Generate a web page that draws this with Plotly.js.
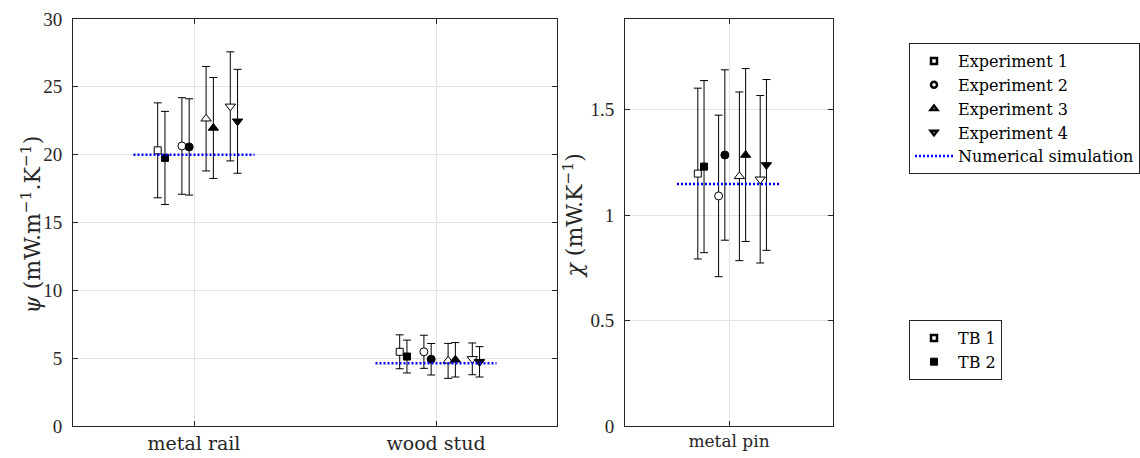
<!DOCTYPE html>
<html>
<head>
<meta charset="utf-8">
<script src="https://cdn.plot.ly/plotly-3.0.1.min.js"></script>
<style>html,body{margin:0;padding:0;background:#fff;}#chart{width:1140px;height:458px;}</style>
</head>
<body>
<div id="chart"></div>
<script>
// ---------- data ----------
const categoriesLeft = ['metal rail', 'wood stud'];
const categoriesRight = ['metal pin'];
const experimentNames = ['Experiment 1', 'Experiment 2', 'Experiment 3', 'Experiment 4'];
const tbNames = ['TB 1', 'TB 2'];
const simulationName = 'Numerical simulation';
const yTitleLeft = '<i>ψ</i> (mW.m<sup>−1</sup>.K<sup>−1</sup>)';
const yTitleRight = '<i>χ</i> (mW.K<sup>−1</sup>)';

// psi (mW.m-1.K-1), one value per experiment
const psiRailTB1 = [20.32, 20.64, 22.65, 23.56];
const psiRailTB1Err = [3.50, 3.56, 3.85, 4.02];
const psiRailTB2 = [19.76, 20.57, 21.97, 22.46];
const psiRailTB2Err = [3.43, 3.55, 3.72, 3.83];
const psiStudTB1 = [5.47, 5.47, 4.80, 4.95];
const psiStudTB1Err = [1.25, 1.22, 1.29, 1.17];
const psiStudTB2 = [5.12, 4.92, 4.88, 4.73];
const psiStudTB2Err = [1.21, 1.16, 1.27, 1.12];
const psiSimulation = [20.0, 4.63];

// chi (mW.K-1)
const chiPinTB1 = [1.197, 1.091, 1.184, 1.170];
const chiPinTB1Err = [0.405, 0.383, 0.400, 0.397];
const chiPinTB2 = [1.230, 1.285, 1.285, 1.238];
const chiPinTB2Err = [0.408, 0.404, 0.410, 0.405];
const chiSimulation = [1.148];

// ---------- styling ----------
const expOffsets = [-0.15, -0.05, 0.05, 0.15];
const tbOffsets = [0, 0.03];
const symbols = ['square', 'circle', 'triangle-up', 'triangle-down'];
const sizes = [7, 8, 9, 9];
const axisColor = '#262626';
const gridColor = '#e3e3e3';
const serif = '"DejaVu Serif", serif';
const numFont = '"Liberation Serif", serif';

const traces = [];
const leftTB = [[psiRailTB1, psiStudTB1, psiRailTB1Err, psiStudTB1Err],
                [psiRailTB2, psiStudTB2, psiRailTB2Err, psiStudTB2Err]];
const rightTB = [[chiPinTB1, chiPinTB1Err], [chiPinTB2, chiPinTB2Err]];

for (let e = 0; e < experimentNames.length; e++) {
  for (let t = 0; t < tbNames.length; t++) {
    const off = expOffsets[e] + tbOffsets[t];
    const marker = {
      symbol: symbols[e], size: sizes[e],
      color: t === 0 ? '#ffffff' : '#000000',
      line: {color: '#000000', width: 1}
    };
    const d = leftTB[t];
    traces.push({
      type: 'scatter', mode: 'markers', xaxis: 'x', yaxis: 'y',
      x: categoriesLeft.map((c, i) => i + 1 + off),
      y: [d[0][e], d[1][e]],
      error_y: {type: 'data', array: [d[2][e], d[3][e]], color: '#000', thickness: 1, width: 4},
      marker: marker, showlegend: false, hoverinfo: 'skip'
    });
    const r = rightTB[t];
    traces.push({
      type: 'scatter', mode: 'markers', xaxis: 'x2', yaxis: 'y2',
      x: categoriesRight.map((c, i) => i + 1 + off),
      y: [r[0][e]],
      error_y: {type: 'data', array: [r[1][e]], color: '#000', thickness: 1, width: 4},
      marker: marker, showlegend: false, hoverinfo: 'skip'
    });
  }
}

const simLine = {color: '#0000ff', width: 2.5, dash: '2px,2px'};
categoriesLeft.forEach((c, i) => {
  traces.push({type: 'scatter', mode: 'lines', xaxis: 'x', yaxis: 'y',
    x: [i + 1 - 0.25, i + 1 + 0.25], y: [psiSimulation[i], psiSimulation[i]],
    line: simLine, showlegend: false, hoverinfo: 'skip'});
});
categoriesRight.forEach((c, i) => {
  traces.push({type: 'scatter', mode: 'lines', xaxis: 'x2', yaxis: 'y2',
    x: [i + 1 - 0.25, i + 1 + 0.25], y: [chiSimulation[i], chiSimulation[i]],
    line: simLine, showlegend: false, hoverinfo: 'skip'});
});

// legend entries
experimentNames.forEach((name, e) => {
  traces.push({type: 'scatter', mode: 'markers', x: [null], y: [null], name: name,
    legend: 'legend',
    marker: {symbol: symbols[e], size: 6, color: '#ffffff', line: {color: '#000', width: 2.5}}});
});
traces.push({type: 'scatter', mode: 'lines', x: [null], y: [null], name: simulationName,
  legend: 'legend', line: simLine});
tbNames.forEach((name, t) => {
  traces.push({type: 'scatter', mode: 'markers', x: [null], y: [null], name: name,
    legend: 'legend2',
    marker: {symbol: 'square', size: t === 0 ? 6 : 7, color: t === 0 ? '#ffffff' : '#000000',
      line: {color: '#000', width: t === 0 ? 2.5 : 1}}});
});

const baseAxis = {
  showline: true, linecolor: axisColor, linewidth: 1, mirror: 'ticks',
  ticks: 'inside', ticklen: 5, tickcolor: axisColor, tickwidth: 1,
  showgrid: true, gridcolor: gridColor, gridwidth: 1, zeroline: false,
  fixedrange: true
};

const layout = {
  width: 1140, height: 458,
  margin: {l: 73, r: 307, t: 19, b: 32, pad: 0, autoexpand: false},
  paper_bgcolor: '#ffffff', plot_bgcolor: '#ffffff',
  showlegend: true,
  font: {family: serif, color: axisColor},
  xaxis: Object.assign({}, baseAxis, {
    domain: [0, 484 / 760], range: [0.5, categoriesLeft.length + 0.5],
    tickmode: 'array', tickvals: categoriesLeft.map((c, i) => i + 1), ticktext: categoriesLeft,
    tickfont: {family: serif, size: 19, color: axisColor}, ticklabelstandoff: 0
  }),
  yaxis: Object.assign({}, baseAxis, {
    range: [0, 30], tickmode: 'array', tickvals: [0, 5, 10, 15, 20, 25, 30],
    tickfont: {family: numFont, size: 19, color: axisColor}, ticklabelstandoff: 6
  }),
  xaxis2: Object.assign({}, baseAxis, {
    domain: [552 / 760, 1], anchor: 'y2', range: [0.5, categoriesRight.length + 0.5],
    tickmode: 'array', tickvals: categoriesRight.map((c, i) => i + 1), ticktext: categoriesRight,
    tickfont: {family: serif, size: 17, color: axisColor}, ticklabelstandoff: 0
  }),
  yaxis2: Object.assign({}, baseAxis, {
    anchor: 'x2', range: [0, 1.93], tickmode: 'array', tickvals: [0, 0.5, 1, 1.5], ticktext: ['0', '0.5', '1', '1.5'],
    tickfont: {family: numFont, size: 19, color: axisColor}, ticklabelstandoff: 6
  }),
  annotations: [
    {text: yTitleLeft, xref: 'paper', yref: 'paper', x: 0, y: 0.5, xshift: -43, yshift: -2,
     xanchor: 'center', yanchor: 'middle', textangle: -90, showarrow: false,
     font: {family: serif, size: 22, color: axisColor}},
    {text: yTitleRight, xref: 'paper', yref: 'paper', x: 552 / 760, y: 0.5, xshift: -53, yshift: 6,
     xanchor: 'center', yanchor: 'middle', textangle: -90, showarrow: false,
     font: {family: serif, size: 22, color: axisColor}}
  ],
  legend: {
    x: 836 / 760, y: (426 - 43) / 407, xanchor: 'left', yanchor: 'top',
    bordercolor: axisColor, borderwidth: 1, bgcolor: '#ffffff',
    font: {family: serif, size: 16, color: '#000'}, itemwidth: 38, tracegroupgap: 0
  },
  legend2: {
    x: 836 / 760, y: (426 - 320) / 407, xanchor: 'left', yanchor: 'top',
    bordercolor: axisColor, borderwidth: 1, bgcolor: '#ffffff',
    font: {family: serif, size: 16, color: '#000'}, itemwidth: 38, tracegroupgap: 0
  }
};

Plotly.newPlot('chart', traces, layout, {displayModeBar: false, staticPlot: true});
</script>
</body>
</html>
